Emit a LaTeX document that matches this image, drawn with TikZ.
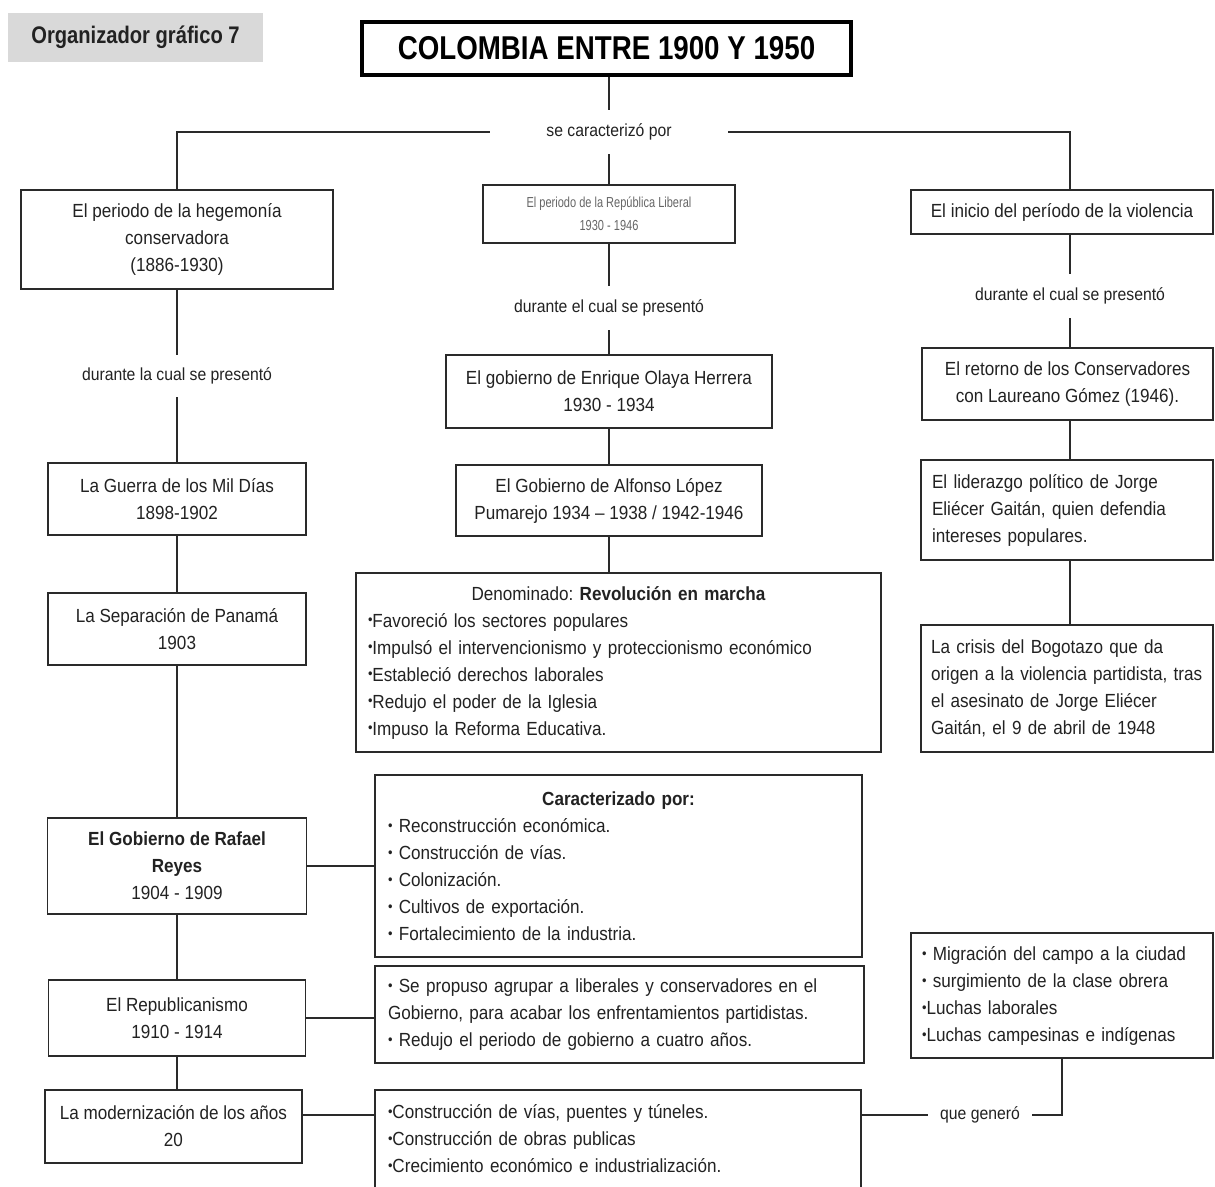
\documentclass[tikz,border=0pt]{standalone}
\usepackage{fontspec}
\setmainfont{Liberation Sans}[FakeStretch=0.9]
\newfontfamily\narrowfont{Liberation Sans}[FakeStretch=0.76]
\newfontfamily\titlefont{Liberation Sans}[FakeStretch=0.84]
\usepackage{graphicx}
\usetikzlibrary{calc}
\frenchspacing
\definecolor{ink}{HTML}{222222}
\definecolor{edge}{HTML}{2A2A2A}
\definecolor{graybg}{HTML}{D9D9D9}
\newcommand\bul{\raisebox{.2ex}{\scalebox{.75}{•}}}
\begin{document}
\begin{tikzpicture}[x=1pt,y=-1pt,
 box/.style={draw=edge,line width=1.8pt,inner sep=0pt,align=center,text=ink,font=\frenchspacing\fontsize{19}{27}\selectfont},
 lbox/.style={draw=edge,line width=1.8pt,inner xsep=11pt,inner ysep=0pt,align=left,text=ink,font=\frenchspacing\fontsize{19}{27}\selectfont},
 lab/.style={inner sep=0pt,text=ink,font=\fontsize{17.5}{20}\selectfont},
 conn/.style={draw=edge,line width=1.6pt}]
\fill[white] (0,0) rectangle (1215,1186);
\useasboundingbox (0,0) rectangle (1215,1186);

% header
\node[fill=graybg,minimum width=255pt,minimum height=49pt,inner sep=0pt,text=ink,font=\titlefont\bfseries\fontsize{24}{28}\selectfont] (og) at (135.5,37.5) {Organizador gráfico 7};
\node[draw=black,line width=3.5pt,minimum width=489pt,minimum height=53pt,inner sep=0pt,text=black,font=\titlefont\bfseries\fontsize{33}{36}\selectfont] (ti) at (606.5,48.5) {COLOMBIA ENTRE 1900 Y 1950};
\node[lab,minimum width=238pt,minimum height=44pt] (sc) at (609,132) {se caracterizó por};

% left column
\node[box,minimum width=312pt,minimum height=99pt] (b1) at (177,239.5) {El periodo de la hegemonía\\conservadora\\(1886-1930)};
\node[lab,minimum height=42pt] (ll) at (177,376) {durante la cual se presentó};
\node[box,minimum width=258pt,minimum height=72pt] (gu) at (177,499) {La Guerra de los Mil Días\\1898-1902};
\node[box,minimum width=258pt,minimum height=72pt] (pa) at (177,629) {La Separación de Panamá\\1903};
\node[box,minimum width=259pt,minimum height=96pt] (re) at (177,866) {\textbf{El Gobierno de Rafael}\\\textbf{Reyes}\\1904 - 1909};
\node[box,minimum width=257pt,minimum height=76pt] (rp) at (177,1018) {El Republicanismo\\1910 - 1914};
\node[box,minimum width=257pt,minimum height=73pt] (mo) at (173.5,1126.5) {La modernización de los años\\20};

% middle column
\node[box,minimum width=252pt,minimum height=58pt,text=black!60,font=\narrowfont\fontsize{14.5}{23}\selectfont] (b2) at (609,214) {El periodo de la República Liberal\\1930 - 1946};
\node[lab,minimum height=44pt] (ml) at (609,308) {durante el cual se presentó};
\node[box,minimum width=326pt,minimum height=73pt] (ol) at (609,391.5) {El gobierno de Enrique Olaya Herrera\\1930 - 1934};
\node[box,minimum width=306pt,minimum height=71pt] (lo) at (609,500.5) {El Gobierno de Alfonso López\\Pumarejo 1934 – 1938 / 1942-1946};
\node[lbox,inner xsep=12pt,text width=501pt,minimum height=179pt] (de) at (618.5,662.5) {\hbox to\hsize{\hfil Denominado: \textbf{Revolución en marcha}\hfil}\\
\bul Favoreció los sectores populares\\
\bul Impulsó el intervencionismo y proteccionismo económico\\
\bul Estableció derechos laborales\\
\bul Redujo el poder de la Iglesia\\
\bul Impuso la Reforma Educativa.};
\node[lbox,inner xsep=13pt,text width=461pt,minimum height=182pt] (ca) at (618.5,866) {\hbox to\hsize{\hfil\textbf{Caracterizado por:}\hfil}\\
\bul\ Reconstrucción económica.\\
\bul\ Construcción de vías.\\
\bul\ Colonización.\\
\bul\ Cultivos de exportación.\\
\bul\ Fortalecimiento de la industria.};
\node[lbox,inner xsep=13pt,text width=463pt,minimum height=97pt] (pr) at (619.5,1014.5) {\bul\ Se propuso agrupar a liberales y conservadores en el\\
Gobierno, para acabar los enfrentamientos partidistas.\\
\bul\ Redujo el periodo de gobierno a cuatro años.};
\node[lbox,inner xsep=13pt,text width=460pt,minimum height=98pt] (co) at (618,1139) {\bul Construcción de vías, puentes y túneles.\\
\bul Construcción de obras publicas\\
\bul Crecimiento económico e industrialización.};

% right column
\node[box,minimum width=302pt,minimum height=44pt] (b3) at (1062,212) {El inicio del período de la violencia};
\node[lab,minimum height=44pt] (rl) at (1070,296) {durante el cual se presentó};
\node[box,minimum width=291pt,minimum height=72pt] (rt) at (1067.5,384) {El retorno de los Conservadores\\con Laureano Gómez (1946).};
\node[lbox,text width=270pt,minimum height=100pt] (li) at (1067,510) {El liderazgo político de Jorge\\Eliécer Gaitán, quien defendia\\intereses populares.};
\node[lbox,inner xsep=10pt,text width=272pt,minimum height=127pt] (cr) at (1067,688.5) {La crisis del Bogotazo que da\\\mbox{origen a la violencia partidista, tras}\\el asesinato de Jorge Eliécer\\Gaitán, el 9 de abril de 1948};
\node[lbox,text width=280pt,minimum height=125pt] (mi) at (1062,995.5) {\bul\ Migración del campo a la ciudad\\
\bul\ surgimiento de la clase obrera\\
\bul Luchas laborales\\
\bul Luchas campesinas e indígenas};
\node[lab,minimum width=104pt,minimum height=20pt] (qg) at (980,1115) {que generó};

% connectors
\draw[conn] (ti.south -| sc) -- (sc.north);
\draw[conn] (sc.west) -| (b1.north);
\draw[conn] (sc.east) -| (rl |- b3.north);
\draw[conn] (sc.south) -- (b2.north);
\draw[conn] (b1.south) -- (ll.north);
\draw[conn] (ll.south) -- (gu.north);
\draw[conn] (gu.south) -- (pa.north);
\draw[conn] (pa.south) -- (re.north);
\draw[conn] (re.south) -- (rp.north);
\draw[conn] (rp.south) -- (rp.south |- mo.north);
\draw[conn] (b2.south) -- (ml.north);
\draw[conn] (ml.south) -- (ol.north);
\draw[conn] (ol.south) -- (lo.north);
\draw[conn] (lo.south) -- (lo.south |- de.north);
\draw[conn] (rl |- b3.south) -- (rl.north);
\draw[conn] (rl.south) -- (rl |- rt.north);
\draw[conn] (rl |- rt.south) -- (rl |- li.north);
\draw[conn] (rl |- li.south) -- (rl |- cr.north);
\draw[conn] (re.east) -- (ca.west);
\draw[conn] (rp.east) -- (rp.east -| pr.west);
\draw[conn] (mo.east |- qg) -- (co.west |- qg);
\draw[conn] (co.east |- qg) -- (qg.west);
\draw[conn] (qg.east) -| (mi.south);
\end{tikzpicture}
\end{document}
